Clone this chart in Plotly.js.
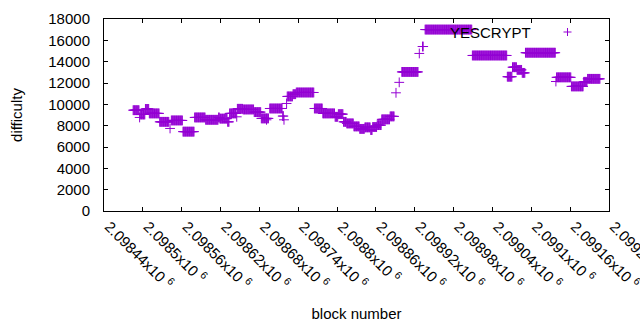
<!DOCTYPE html>
<html>
<head>
<meta charset="utf-8">
<script src="https://cdn.plot.ly/plotly-3.0.1.min.js"></script>
<style>html,body{margin:0;padding:0;background:#fff;}#chart{width:640px;height:330px;}</style>
</head>
<body>
<div id="chart"></div>
<script>
// Runs of constant difficulty (first block, last block, difficulty)
const runStart = [2098485,2098495,2098496,2098504,2098510,2098526,2098542,2098544,2098562,2098580,2098597,2098617,2098619,2098631,2098634,2098645,2098646,2098655,2098672,2098683,2098691,2098696,2098716,2098718,2098722,2098723,2098732,2098737,2098765,2098778,2098797,2098802,2098810,2098815,2098826,2098835,2098843,2098852,2098855,2098862,2098869,2098882,2098891,2098896,2098900,2098927,2098932,2098936,2099009,2099063,2099071,2099078,2099086,2099091,2099138,2099139,2099162,2099181,2099187];
const runEnd   = [2098494,2098495,2098503,2098509,2098525,2098540,2098542,2098561,2098579,2098596,2098616,2098618,2098630,2098633,2098644,2098645,2098654,2098671,2098682,2098694,2098691,2098715,2098717,2098718,2098722,2098731,2098736,2098764,2098777,2098796,2098801,2098809,2098814,2098825,2098834,2098842,2098851,2098854,2098861,2098868,2098881,2098888,2098891,2098896,2098925,2098927,2098933,2099008,2099062,2099070,2099077,2099085,2099090,2099137,2099138,2099161,2099180,2099186,2099206];
const runValue = [9450,8770,9050,9570,9150,8360,7740,8490,7440,8770,8550,8770,8660,8360,9150,8830,9580,9520,9270,8680,8550,9610,8900,8550,10080,10740,10950,11110,9610,9150,8830,9080,8360,8210,7930,7700,7840,7590,7870,8050,8590,8870,11080,12060,13040,14770,15420,17010,14580,12590,13480,13230,12950,14840,12140,12530,11680,12110,12390];

const tickVals = [2098440,2098500,2098560,2098620,2098680,2098740,2098800,2098860,2098920,2098980,2099040,2099100,2099160,2099220];
const tickText = ["2.09844x10 <sup>6</sup>","2.0985x10 <sup>6</sup>","2.09856x10 <sup>6</sup>","2.09862x10 <sup>6</sup>","2.09868x10 <sup>6</sup>","2.09874x10 <sup>6</sup>","2.0988x10 <sup>6</sup>","2.09886x10 <sup>6</sup>","2.09892x10 <sup>6</sup>","2.09898x10 <sup>6</sup>","2.09904x10 <sup>6</sup>","2.0991x10 <sup>6</sup>","2.09916x10 <sup>6</sup>","2.09922x10 <sup>6</sup>"];

const xs = [], ys = [];
for (let i = 0; i < runStart.length; i++) {
  for (let b = runStart[i]; b <= runEnd[i]; b++) { xs.push(b); ys.push(runValue[i]); }
}

const color = '#9400d3';
const font = {family: 'Liberation Sans, Arial, sans-serif', size: 15, color: '#000'};

const trace = {
  x: xs, y: ys, type: 'scatter', mode: 'markers', name: 'YESCRYPT',
  marker: {symbol: 'cross-thin', size: 7, color: color, line: {color: color, width: 1}},
  showlegend: false, hoverinfo: 'x+y'
};

const layout = {
  width: 640, height: 330,
  margin: {l: 104, r: 31, t: 19, b: 119},
  paper_bgcolor: '#fff', plot_bgcolor: '#fff',
  font: font,
  xaxis: {
    range: [2098439.98, 2099220.02], tickmode: 'array', tickvals: tickVals, ticktext: tickText,
    tickangle: 45, ticks: 'inside', ticklen: 4, tickcolor: '#000', showgrid: false, zeroline: false,
    showline: true, linecolor: '#000', linewidth: 1, mirror: 'ticks',
    title: {text: 'block number', font: font, standoff: 16},
    tickfont: font, ticklabelshift: 5, ticklabeloverflow: 'allow'
  },
  yaxis: {
    range: [0, 18000], tickmode: 'linear', tick0: 0, dtick: 2000, tickformat: 'd',
    ticks: 'inside', ticklen: 4, tickcolor: '#000', showgrid: false, zeroline: false,
    showline: true, linecolor: '#000', linewidth: 1, mirror: 'ticks',
    title: {text: 'difficulty', font: font, standoff: 22},
    tickfont: font, ticklabelstandoff: 10
  },
  annotations: [{
    xref: 'paper', yref: 'paper', x: (533 - 104) / 505, y: (211 - 32) / 192,
    xanchor: 'right', yanchor: 'middle', text: 'YESCRYPT', showarrow: false, font: font
  }],
  shapes: [
    {type: 'line', xref: 'paper', yref: 'paper', x0: (563.5 - 104) / 505, x1: (571.5 - 104) / 505, y0: (211 - 32) / 192, y1: (211 - 32) / 192, line: {color: color, width: 1}},
    {type: 'line', xref: 'paper', yref: 'paper', x0: (567.5 - 104) / 505, x1: (567.5 - 104) / 505, y0: (211 - 28) / 192, y1: (211 - 36) / 192, line: {color: color, width: 1}}
  ]
};

Plotly.newPlot('chart', [trace], layout, {displayModeBar: false, staticPlot: true});
</script>
</body>
</html>
